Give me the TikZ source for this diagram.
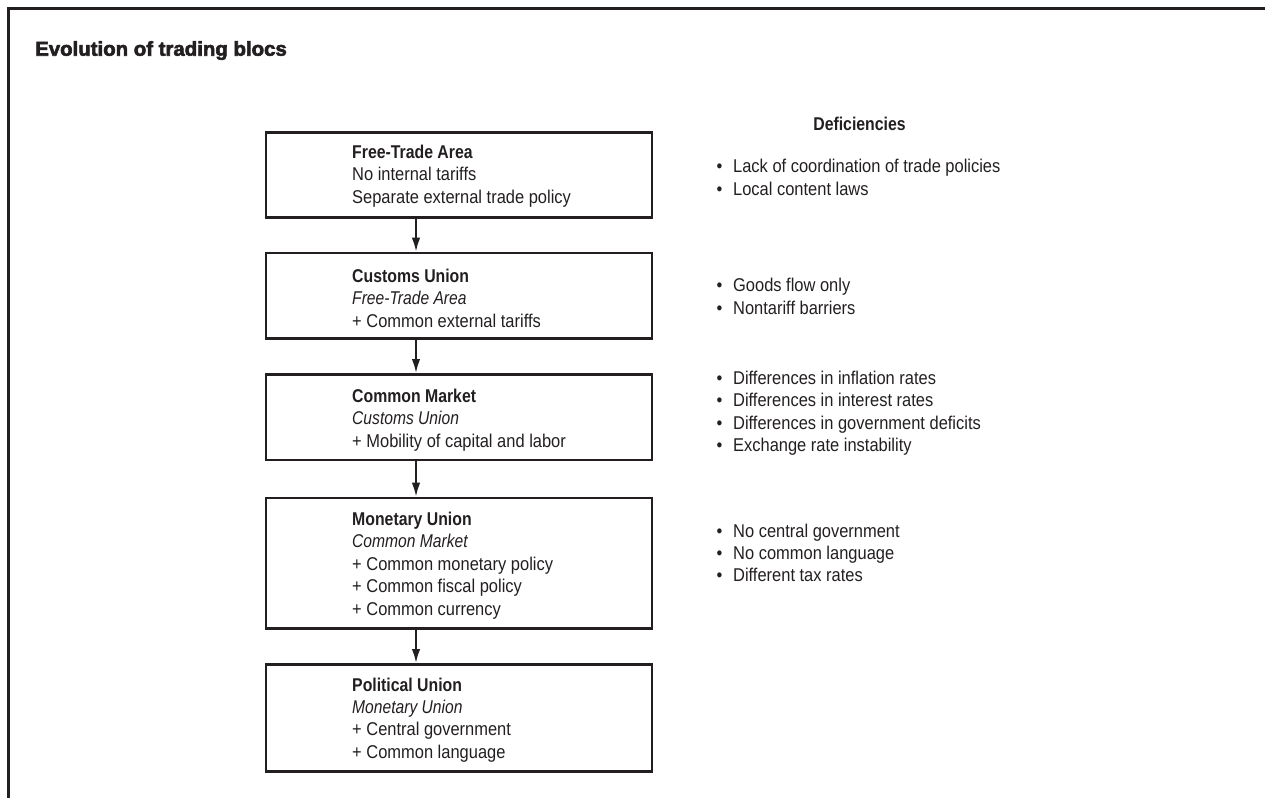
\documentclass[tikz,border=0pt]{standalone}
\usepackage{fontspec}
\usetikzlibrary{arrows.meta}
\newfontfamily\cf[FakeStretch=0.89]{Liberation Sans}
\newfontfamily\cfb[FakeStretch=0.855]{Liberation Sans Bold}
\newfontfamily\cfi[FakeStretch=0.845]{Liberation Sans Italic}
\newfontfamily\tf[FakeStretch=1.02,FakeBold=3]{Liberation Sans Bold}
\definecolor{ink}{RGB}{35,31,32}
\tikzset{
  box/.style={draw=ink, line width=2.6, outer sep=0pt, inner sep=0pt, anchor=north west, minimum width=386},
  ln/.style={anchor=base west, inner sep=0pt, text=ink, font=\cf\fontsize{18.5}{22}\selectfont},
  hd/.style={ln, font=\cfb\fontsize{18.5}{22}\selectfont},
  it/.style={ln, font=\cfi\fontsize{18.5}{22}\selectfont},
  flow/.style={draw=ink, line width=2, -{Latex[length=14,width=8.5]}, shorten >=1.3},
}
\newcommand{\bul}{\textbullet\hspace{10.8pt}}
\begin{document}
\begin{tikzpicture}[x=1pt,y=-1pt]
\useasboundingbox (0,0) rectangle (1265,797);
% frame
\draw[ink, line width=3.3] (8.3,800) -- (8.3,8.3) -- (1268,8.3);
\node[anchor=base west, inner sep=0pt, text=ink, font=\tf\fontsize{20}{24}\selectfont] (title) at (35,55.7) {Evolution of trading blocs};

% boxes
\node[box, minimum height=85] (b1) at (266,132.7) {};
\node[box, minimum height=85.7] (b2) at (266,253) {};
\node[box, minimum height=85.7] (b3) at (266,374.3) {};
\node[box, minimum height=130.3] (b4) at (266,498) {};
\node[box, minimum height=107.4] (b5) at (266,664.3) {};

% arrows
\draw[flow] ([xshift=150]b1.south west) -- ([xshift=150]b2.north west);
\draw[flow] ([xshift=150]b2.south west) -- ([xshift=150]b3.north west);
\draw[flow] ([xshift=150]b3.south west) -- ([xshift=150]b4.north west);
\draw[flow] ([xshift=150]b4.south west) -- ([xshift=150]b5.north west);

% box texts
\node[hd] (b1a) at (352,158.3) {Free-Trade Area};
\node[ln] (b1b) at (352,180.8) {No internal tariffs};
\node[ln] (b1c) at (352,203.1) {Separate external trade policy};

\node[hd] (b2a) at (352,282.4) {Customs Union};
\node[it] (b2b) at (352,304.8) {Free-Trade Area};
\node[ln] (b2c) at (352,327.1) {+ Common external tariffs};

\node[hd] (b3a) at (352,402.6) {Common Market};
\node[it] (b3b) at (352,424.6) {Customs Union};
\node[ln] (b3c) at (352,447) {+ Mobility of capital and labor};

\node[hd] (b4a) at (352,525.7) {Monetary Union};
\node[it] (b4b) at (352,547.6) {Common Market};
\node[ln] (b4c) at (352,570) {+ Common monetary policy};
\node[ln] (b4d) at (352,592.7) {+ Common fiscal policy};
\node[ln] (b4e) at (352,615) {+ Common currency};

\node[hd] (b5a) at (352,691) {Political Union};
\node[it] (b5b) at (352,713.3) {Monetary Union};
\node[ln] (b5c) at (352,735.6) {+ Central government};
\node[ln] (b5d) at (352,758) {+ Common language};

% deficiencies
\node[hd, anchor=base] (def) at (859.5,130.7) {Deficiencies};
\node[ln] (d1a) at (716.4,172.7) {\bul Lack of coordination of trade policies};
\node[ln] (d1b) at (716.4,195) {\bul Local content laws};
\node[ln] (d2a) at (716.4,291.7) {\bul Goods flow only};
\node[ln] (d2b) at (716.4,314) {\bul Nontariff barriers};
\node[ln] (d3a) at (716.4,384) {\bul Differences in inflation rates};
\node[ln] (d3b) at (716.4,406.5) {\bul Differences in interest rates};
\node[ln] (d3c) at (716.4,429) {\bul Differences in government deficits};
\node[ln] (d3d) at (716.4,451.5) {\bul Exchange rate instability};
\node[ln] (d4a) at (716.4,537.3) {\bul No central government};
\node[ln] (d4b) at (716.4,559.6) {\bul No common language};
\node[ln] (d4c) at (716.4,581.9) {\bul Different tax rates};
\end{tikzpicture}
\end{document}
